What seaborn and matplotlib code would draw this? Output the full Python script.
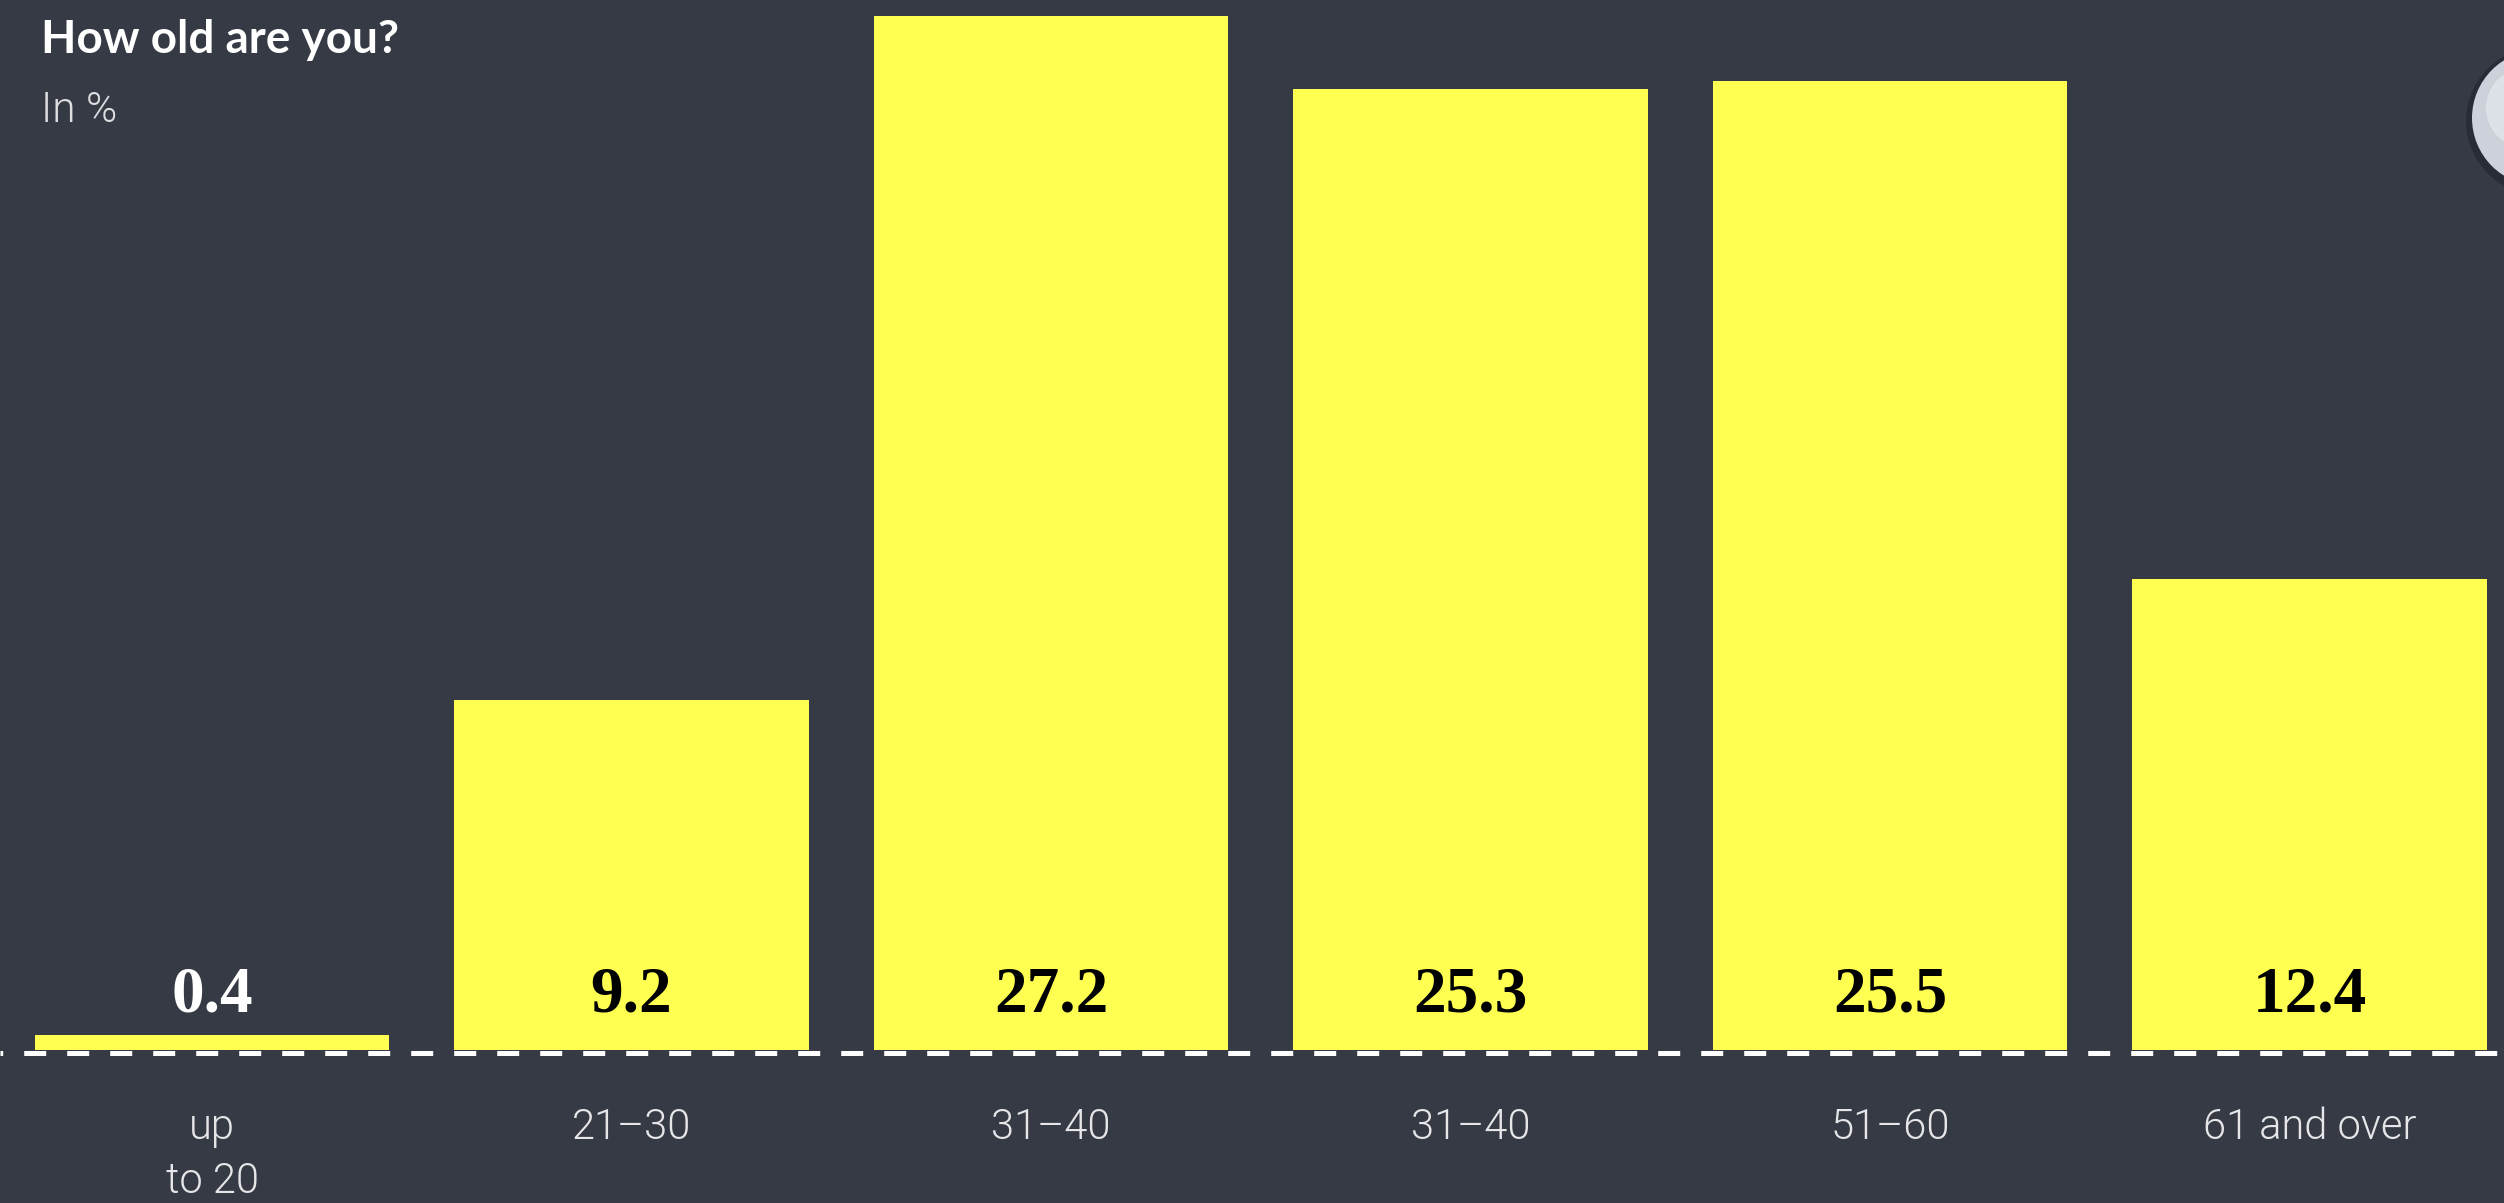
import matplotlib
matplotlib.use("Agg")
import matplotlib.pyplot as plt
from matplotlib.patches import Ellipse
import seaborn as sns
import pandas as pd

# Survey answers: share of respondents per age group, in percent
age_groups = ["up\nto 20", "21–30", "31–40", "31–40", "51–60", "61 and over"]
shares = [0.4, 9.2, 27.2, 25.3, 25.5, 12.4]

title = "How old are you?"
subtitle = "In %"

BG = "#363a45"
BAR = "#ffff52"
LABEL = "#e6e6e8"

sns.set_theme(style="white")
plt.rcParams["font.family"] = ["Lato", "DejaVu Sans"]
LIGHT = ["Roboto", "DejaVu Sans"]

W, H = 2504, 1203
fig = plt.figure(figsize=(W / 100, H / 100), dpi=100)
fig.patch.set_facecolor(BG)

base_px = 1050          # pixel row of the zero line, from top
unit_px = 38.0          # pixels per percentage point
step_px = 419.5         # pixels between bar centres
first_px = 212          # centre of the first bar

ax = fig.add_axes([0, (H - base_px) / H, 1, base_px / H])
ax.set_facecolor("none")

df = pd.DataFrame({"pos": range(len(shares)), "share": shares})
sns.barplot(data=df, x="pos", y="share", color=BAR, saturation=1,
            width=0.845, edgecolor="none", linewidth=0, ax=ax)

ax.set_xlim(-first_px / step_px, (W - first_px) / step_px)
ax.set_ylim(0, base_px / unit_px)
ax.set_xlabel("")
ax.set_ylabel("")
ax.set_yticks([])
for s in ax.spines.values():
    s.set_visible(False)

# dashed zero line running across the full width
lw_pt = 5 * 0.72
ax.axhline(-3 / unit_px, color="white", lw=lw_pt, clip_on=False,
           linestyle=(3.86, (4.4, 4.2)), solid_capstyle="butt",
           dash_capstyle="butt", zorder=3)

# category labels under the line
ax.set_xticks(range(len(age_groups)))
ax.set_xticklabels(age_groups, fontsize=30, fontweight=300, family=LIGHT,
                   color=LABEL, linespacing=1.42)
ax.tick_params(axis="x", length=0, pad=41)

# value labels near the foot of each bar
for i, v in enumerate(shares):
    inside = v > 3
    ax.text(i, 39 / unit_px, f"{v:.1f}", ha="center", va="baseline",
            fontsize=47, fontweight="bold", family="Liberation Serif",
            color="black" if inside else "white", zorder=4)

fig.text(41 / W, 1 - 53 / H, title, fontsize=33, fontweight="bold",
         color="white", ha="left", va="baseline")
fig.text(41 / W, 1 - 122 / H, subtitle, fontsize=30.5, fontweight=300,
         family=LIGHT, color="#dedee1", ha="left", va="baseline")

# round grey knob at the right edge
cx, cy, r = 2540, 118, 68
fig.patches.append(Ellipse(((cx) / W, 1 - (cy + 3) / H), 2 * (r + 6) / W,
                           2 * (r + 6) / H, transform=fig.transFigure,
                           facecolor="#1f222a", alpha=0.55, edgecolor="none"))
fig.patches.append(Ellipse((cx / W, 1 - cy / H), 2 * r / W, 2 * r / H,
                           transform=fig.transFigure, facecolor="#ccd1da",
                           edgecolor="none"))
fig.patches.append(Ellipse(((cx - 14) / W, 1 - (cy - 10) / H), 2 * 40 / W,
                           2 * 40 / H, transform=fig.transFigure,
                           facecolor="#dde1e8", edgecolor="none"))

fig.savefig("out.png", dpi=100, facecolor=BG)
